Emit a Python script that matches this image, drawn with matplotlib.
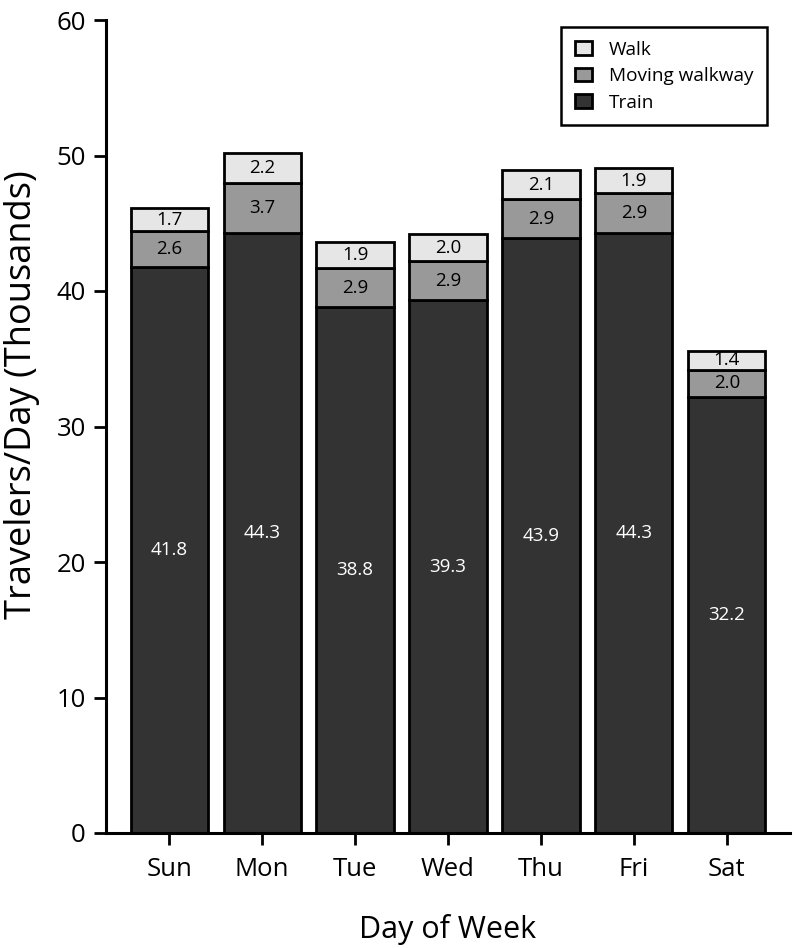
import numpy as np
import matplotlib
matplotlib.use("Agg")
import matplotlib.pyplot as plt

plt.rcParams['font.family'] = ['Open Sans', 'DejaVu Sans']

days = ['Sun', 'Mon', 'Tue', 'Wed', 'Thu', 'Fri', 'Sat']
train = [41.8, 44.3, 38.8, 39.3, 43.9, 44.3, 32.2]
walkway = [2.6, 3.7, 2.9, 2.9, 2.9, 2.9, 2.0]
walk = [1.7, 2.2, 1.9, 2.0, 2.1, 1.9, 1.4]

x = np.arange(len(days))
w = 0.83

fig = plt.figure(figsize=(7.94, 9.48), dpi=100)
ax = fig.add_axes([106 / 794, 1 - 833 / 948, 684 / 794, 813 / 948])

edge = dict(edgecolor='black', linewidth=2)
b1 = ax.bar(x, train, w, color='#333333', label='Train', **edge)
b2 = ax.bar(x, walkway, w, bottom=train, color='#999999',
            label='Moving walkway', **edge)
bottom2 = np.array(train) + np.array(walkway)
b3 = ax.bar(x, walk, w, bottom=bottom2, color='#e6e6e6', label='Walk', **edge)

# value labels in the middle of each segment
for i in range(len(days)):
    ax.text(x[i], train[i] / 2, f'{train[i]:.1f}', ha='center', va='center',
            color='white', fontsize=13.5)
    ax.text(x[i], train[i] + walkway[i] / 2, f'{walkway[i]:.1f}',
            ha='center', va='center', color='black', fontsize=13.5)
    ax.text(x[i], bottom2[i] + walk[i] / 2, f'{walk[i]:.1f}',
            ha='center', va='center', color='black', fontsize=13.5)

ax.set_xlim(-0.68, 6.68)
ax.set_ylim(0, 60)
ax.set_yticks(range(0, 61, 10))
ax.set_xticks(x)
ax.set_xticklabels(days)
ax.tick_params(labelsize=18.5, width=2, length=8.5, pad=6)
ax.tick_params(axis='x', pad=9)

for s in ['top', 'right']:
    ax.spines[s].set_visible(False)
for s in ['left', 'bottom']:
    ax.spines[s].set_linewidth(2.2)

ax.set_xlabel('Day of Week', fontsize=22, labelpad=23)
ax.set_ylabel('Travelers/Day (Thousands)', fontsize=26)
ax.yaxis.set_label_coords(-0.097, 0.539)

leg = ax.legend(handles=[b3, b2, b1], loc='upper right',
                bbox_to_anchor=(0.966, 0.991), borderaxespad=0,
                fontsize=13.7, fancybox=False,
                framealpha=1, edgecolor='black', handlelength=0.9,
                handleheight=0.7, handletextpad=0.9, borderpad=0.7,
                labelspacing=0.45)
leg.get_frame().set_linewidth(1.8)

fig.savefig('out.png', dpi=100)
